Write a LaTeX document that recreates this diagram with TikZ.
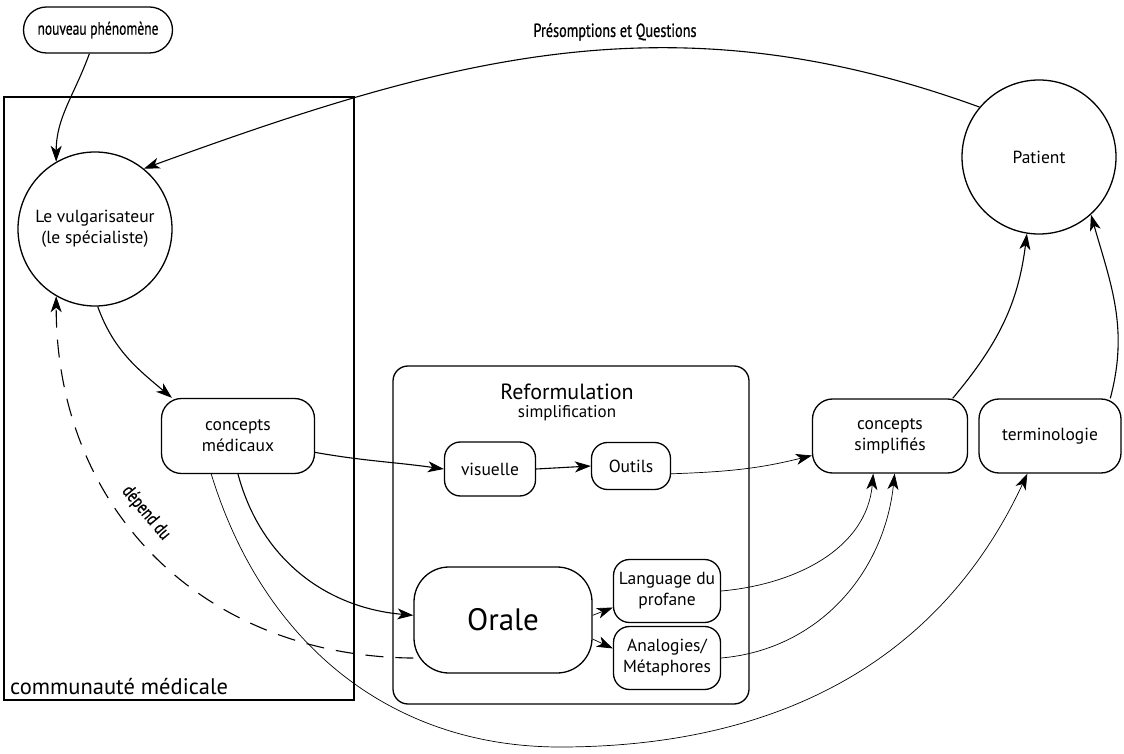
\documentclass[tikz,border=0pt]{standalone}
\usepackage{fontspec}
\setmainfont{PT Sans}
\newfontfamily\condf[FakeStretch=0.75,FakeBold=0.6]{PT Sans}
\usetikzlibrary{arrows.meta}
\begin{document}
\begin{tikzpicture}[x=1pt,y=1pt,
  every node/.style={font=\fontsize{17.5}{21}\selectfont},
  box/.style={draw, line width=1.3pt, rounded corners=20pt, align=center, inner sep=0pt},
  circ/.style={draw, circle, line width=1.3pt, minimum size=154pt, align=center, inner sep=0pt},
  arr/.style={line width=1.1pt, -{Stealth[length=16pt,width=11pt,inset=4.5pt]}},
  thinarr/.style={arr, line width=0.7pt},
]
\useasboundingbox (0,0) rectangle (1124,753);

% frames
\node[draw, line width=1.3pt, minimum width=350pt, minimum height=603pt, inner sep=0pt] (comm) at (179,354.5) {};
\node[anchor=south west, inner sep=0pt, font=\fontsize{22.5}{26}\selectfont] (commlbl) at (10,58) {communauté médicale};
\node[draw, line width=1.3pt, rounded corners=15pt, minimum width=356pt, minimum height=338pt, inner sep=0pt] (reform) at (571,218) {};
\node[font=\fontsize{22}{25}\selectfont] (reftitle) at (567,361) {Reformulation};
\node[font=\fontsize{17}{19}\selectfont] (simpl) at (567,340) {simplification};

% nodes
\node[box, rounded corners=23pt, minimum width=149pt, minimum height=46pt, font=\condf\fontsize{18}{20}\selectfont] (nouv) at (98,723) {nouveau phénomène};
\node[font=\condf\fontsize{19}{21}\selectfont] (presq) at (615,721) {Présomptions et Questions};
\node[circ] (vulg) at (95,524) {Le vulgarisateur\\(le spécialiste)};
\node[circ] (pat) at (1039,596) {Patient};
\node[box, minimum width=153pt, minimum height=75pt] (cmed) at (238,317) {concepts\\médicaux};
\node[box, rounded corners=16pt, minimum width=91pt, minimum height=54pt] (vis) at (490,284) {visuelle};
\node[box, rounded corners=16pt, minimum width=79pt, minimum height=47pt] (outils) at (631,287) {Outils};
\node[box, rounded corners=35pt, minimum width=178pt, minimum height=106pt, font=\fontsize{31}{34}\selectfont] (orale) at (503,133) {Orale};
\node[box, rounded corners=16pt, minimum width=107pt, minimum height=63pt] (lang) at (667,162) {Language du\\profane};
\node[box, rounded corners=16pt, minimum width=107pt, minimum height=63pt] (analog) at (667,95) {Analogies/\\Métaphores};
\node[box, minimum width=155pt, minimum height=74pt] (csimpl) at (890,317) {concepts\\simplifiés};
\node[box, minimum width=142pt, minimum height=74pt] (termin) at (1050,317) {terminologie};
\node[rotate=-50, font=\condf\fontsize{19}{21}\selectfont] (dep) at (146,240) {dépend du};
\coordinate (low) at (560,6);

% connectors
\draw[arr] (nouv.250) to[out=250, in=90] (vulg.120);
\draw[arr] (pat.140) to[out=160, in=20] (vulg.51);
\draw[arr] (vulg.-88) to[out=-70, in=140] (cmed.150);
\draw[arr, dash pattern=on 18pt off 12pt] (orale.203) .. controls +(-214,2) and +(0,-210) .. (vulg.240);
\draw[arr] (cmed.-12) to[out=-10, in=172] (vis.west);
\draw[arr] (cmed.south) to[out=-75, in=175] (orale.177);
\draw[thinarr] (cmed.235) to[out=-73, in=180] (low) to[out=0, in=245] (termin.239);
\draw[arr] (vis.east) -- (outils.west);
\draw[thinarr] (outils.-11) to[out=2, in=194] (csimpl.194);
\draw[thinarr] (orale.3) -- (lang.197);
\draw[thinarr] (orale.-12) -- (analog.170);
\draw[thinarr] (lang.east) to[out=5, in=265] (csimpl.246);
\draw[thinarr] (analog.east) to[out=5, in=264] (csimpl.277);
\draw[arr] (csimpl.31) to[out=50, in=263] (pat.261);
\draw[arr] (termin.32) to[out=75, in=286] (pat.-48);
\end{tikzpicture}
\end{document}
